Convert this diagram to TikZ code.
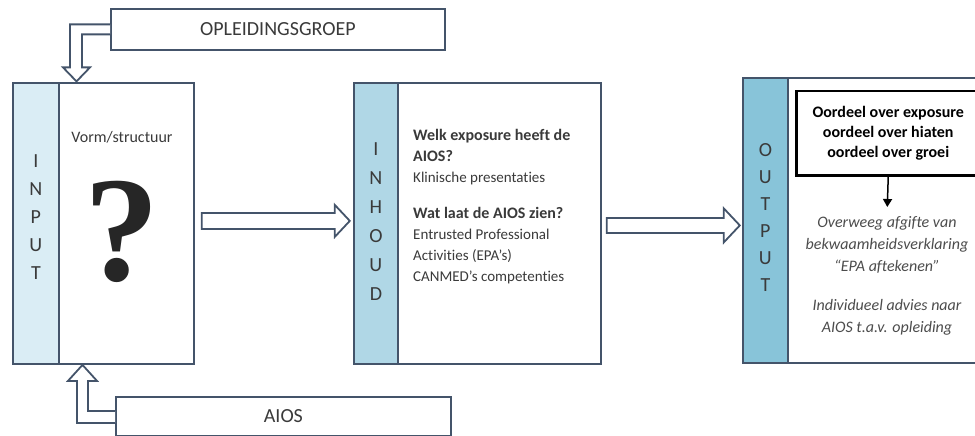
\documentclass[tikz,border=0pt]{standalone}
\usepackage{fontspec}
\setmainfont{Carlito}[Ligatures=NoCommon]
\newfontfamily\qmarkfont{Liberation Serif}
\usetikzlibrary{
  positioning,
  calc,
  arrows.meta
}

\definecolor{boxline}{HTML}{44546A}
\definecolor{stripone}{HTML}{DAEDF5}
\definecolor{striptwo}{HTML}{B0D7E6}
\definecolor{stripthree}{HTML}{88C4D9}
\definecolor{textgrey}{HTML}{3A3A3A}

\tikzset{
  mainbox/.style={draw=boxline, line width=1.8pt, fill=white, inner sep=0pt, anchor=north west},
  stripbox/.style={draw=boxline, line width=1.8pt, inner sep=0pt, anchor=north west},
  namebox/.style={mainbox, text=textgrey, font=\fontsize{20}{22}\selectfont},
  hollow/.style={draw=boxline, line width=1.8pt, fill=white, line join=miter},
  vletters/.style={align=center, text=textgrey, inner sep=0pt},
  bodytext/.style={text=textgrey, inner sep=0pt}
}

\begin{document}
\begin{tikzpicture}[x=1pt,y=-1pt]
  \useasboundingbox (0,0) rectangle (975,436);
  \clip (0,0) rectangle (975,436);

  % groep en aios
  \node[namebox, minimum width=334, minimum height=41] (opl) at (110,8) {OPLEIDINGSGROEP};
  \node[namebox, minimum width=335, minimum height=39] (aios) at (115,396) {AIOS};

  % input
  \node[mainbox, minimum width=181, minimum height=281] (inp) at (12,82) {};
  \node[stripbox, fill=stripone, minimum width=46, minimum height=281] (inpstrip) at (inp.north west) {};
  \node[vletters, font=\fontsize{20}{28}\selectfont] (inplbl) at ($(inpstrip.center)+(0,-6)$) {I\\N\\P\\U\\T};
  \node[bodytext, font=\fontsize{16}{18}\selectfont] (vorm) at (122,137) {Vorm/structuur};
  \node[inner sep=0pt, font=\qmarkfont\bfseries\fontsize{150}{150}\selectfont, text=black!85] (qmark) at (122,232) {?};

  % inhoud
  \node[mainbox, minimum width=247, minimum height=281] (inh) at (353,82) {};
  \node[stripbox, fill=striptwo, minimum width=44, minimum height=281] (inhstrip) at (inh.north west) {};
  \node[vletters, font=\fontsize{20}{29}\selectfont] (inhlbl) at ($(inhstrip.center)+(0,-1.5)$) {I\\N\\H\\O\\U\\D};
  \node[bodytext, anchor=north west, align=left, font=\fontsize{15}{21}\selectfont] (inhtxt) at (413,129) {%
    {\bfseries\fontsize{16}{21}\selectfont Welk exposure heeft de}\\
    {\bfseries\fontsize{16}{21}\selectfont AIOS?}\\
    Klinische presentaties\\[15pt]
    {\bfseries\fontsize{16}{21}\selectfont Wat laat de AIOS zien?}\\
    Entrusted Professional\\
    Activities (EPA’s)\\
    CANMED’s competenties};

  % output
  \node[mainbox, minimum width=260, minimum height=285] (outp) at (742,77) {};
  \node[stripbox, fill=stripthree, minimum width=45, minimum height=285] (outstrip) at (outp.north west) {};
  \node[vletters, font=\fontsize{20}{27}\selectfont] (outlbl) at ($(outstrip.center)+(0,-2.5)$) {O\\U\\T\\P\\U\\T};
  \node[draw=black, line width=2.5pt, fill=white, anchor=north west, inner sep=0pt,
    minimum width=184, minimum height=84, align=center,
    font=\bfseries\fontsize{16}{20}\selectfont] (oordeel) at (795,90)
    {Oordeel over exposure\\oordeel over hiaten\\oordeel over groei};
  \node[bodytext, anchor=north, align=center, text=black!70, font=\itshape\fontsize{16}{22}\selectfont] (overweeg) at (887,216) {%
    Overweeg afgifte van\\
    bekwaamheidsverklaring\\
    “EPA aftekenen”\\[17pt]
    Individueel advies naar\\
    AIOS t.a.v. opleiding};
  \draw[line width=1.5pt, -{Triangle[width=9pt,length=8pt]}, shorten >=9pt] (oordeel.south) -- (overweeg.north);

  % blokpijlen
  \draw[hollow] ($(opl.west)+(0,-5)$) -- ++(-40,0) -- ++(0,43) -- ++(-7,0) -- ++(13.5,14)
    -- ++(13.5,-14) -- ++(-8,0) -- ++(0,-33) -- ++(28,0);
  \draw[hollow] ($(aios.west)+(0,6.5)$) -- ++(-38,0) -- ++(0,-42) -- ++(-9,0) -- ++(14.5,-16)
    -- ++(14.5,16) -- ++(-9,0) -- ++(0,30) -- ++(27,0);
  \draw[hollow] ($(inp.east)+(7,-10.5)$) -- ++(133,0) -- ++(0,-8) -- ++(15,16) -- ++(-15,16)
    -- ++(0,-8) -- ++(-133,0) -- cycle;
  \draw[hollow] ($(inh.east)+(5,-5.5)$) -- ++(117,0) -- ++(0,-9.5) -- ++(16,17) -- ++(-16,17)
    -- ++(0,-9.5) -- ++(-117,0) -- cycle;
\end{tikzpicture}
\end{document}
